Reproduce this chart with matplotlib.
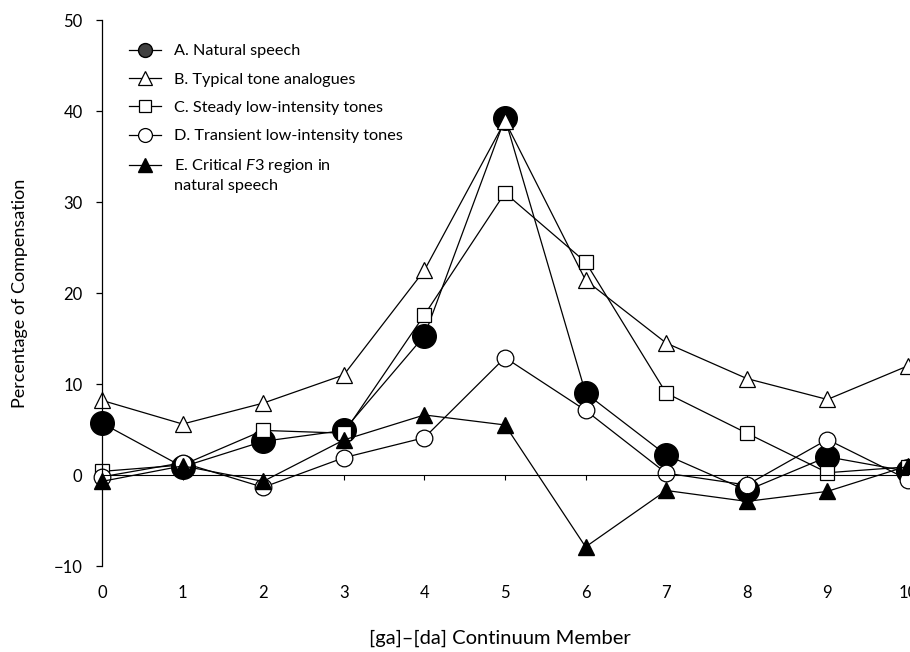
import matplotlib
matplotlib.use("Agg")
import numpy as np
import matplotlib.pyplot as plt

# Font settings
plt.rcParams['font.family'] = ['Lato', 'DejaVu Sans']
plt.rcParams['mathtext.fontset'] = 'custom'
plt.rcParams['mathtext.it'] = 'Lato:italic'
plt.rcParams['mathtext.rm'] = 'Lato'

# Data
members = [0, 1, 2, 3, 4, 5, 6, 7, 8, 9, 10]
natural = [5.7, 0.9, 3.7, 4.9, 15.3, 39.2, 9.0, 2.2, -1.7, 2.0, 0.4]
typical = [8.2, 5.6, 7.9, 11.0, 22.5, 38.9, 21.4, 14.5, 10.6, 8.3, 12.0]
steady = [0.4, 1.1, 4.9, 4.6, 17.6, 31.0, 23.4, 9.0, 4.6, 0.25, 0.9]
transient = [-0.2, 1.35, -1.35, 1.9, 4.1, 12.9, 7.1, 0.2, -1.1, 3.9, -0.5]
critical = [-0.7, 1.0, -0.7, 3.85, 6.6, 5.5, -7.9, -1.7, -2.9, -1.8, 1.0]

labels = ["A. Natural speech",
          "B. Typical tone analogues",
          "C. Steady low-intensity tones",
          "D. Transient low-intensity tones",
          "E. Critical $\\it{F}$3 region in\nnatural speech"]
yticks = [-10, 0, 10, 20, 30, 40, 50]

fig = plt.figure(figsize=(9.1, 6.52), dpi=100)
ax = fig.add_axes([0.1121, 0.1319, 0.8857, 0.8374])

lw = 0.9
ax.plot(members, natural, '-o', color='black', lw=lw, ms=17, mfc='black', mec='black', clip_on=False, label=labels[0])
ax.plot(members, typical, '-^', color='black', lw=lw, ms=12, mfc='white', mec='black', mew=0.9, clip_on=False, label=labels[1])
ax.plot(members, steady, '-s', color='black', lw=lw, ms=10.5, mfc='white', mec='black', mew=0.9, clip_on=False, label=labels[2])
ax.plot(members, transient, '-o', color='black', lw=lw, ms=12, mfc='white', mec='black', mew=0.9, clip_on=False, label=labels[3])
ax.plot(members, critical, '-^', color='black', lw=lw, ms=11, mfc='black', mec='black', clip_on=False, label=labels[4])

ax.set_xlim(0, 10)
ax.set_ylim(-10, 50)
ax.set_xticks(members)
ax.set_yticks(yticks)

ax.spines['top'].set_visible(False)
ax.spines['right'].set_visible(False)
ax.spines['bottom'].set_position(('data', 0))
ax.spines['bottom'].set_linewidth(0.8)
ax.spines['left'].set_linewidth(0.9)

ax.tick_params(axis='y', direction='out', length=4, width=0.9, pad=10, labelsize=12)
ax.tick_params(axis='x', direction='out', length=3.5, width=0.8, pad=76, labelsize=12)

ax.set_ylabel("Percentage of Compensation", fontsize=13, va='center')
ax.yaxis.set_label_coords(-0.102, 0.5)
ax.set_xlabel("[ga]–[da] Continuum Member", fontsize=14.5, va='center')
ax.xaxis.set_label_coords(0.494, -0.132)

leg = ax.legend(loc='upper left', bbox_to_anchor=(129 / 910, 1 - 44 / 652),
                bbox_transform=fig.transFigure, frameon=False, fontsize=11.7,
                handlelength=1.95, handletextpad=0.85, labelspacing=0.86,
                borderpad=0, borderaxespad=0)
sizes = [10, 10, 9, 10, 10]
for h, s in zip(leg.legend_handles, sizes):
    h.set_markersize(s)
leg.legend_handles[0].set_markerfacecolor('#404040')
for t in leg.get_texts():
    t.set_linespacing(1.37)
# put the E marker level with the first line of its two-line label
eh = leg.legend_handles[4]
eh.set_ydata(np.asarray(eh.get_ydata()) + 7.5)

fig.savefig("out.png", dpi=100)
